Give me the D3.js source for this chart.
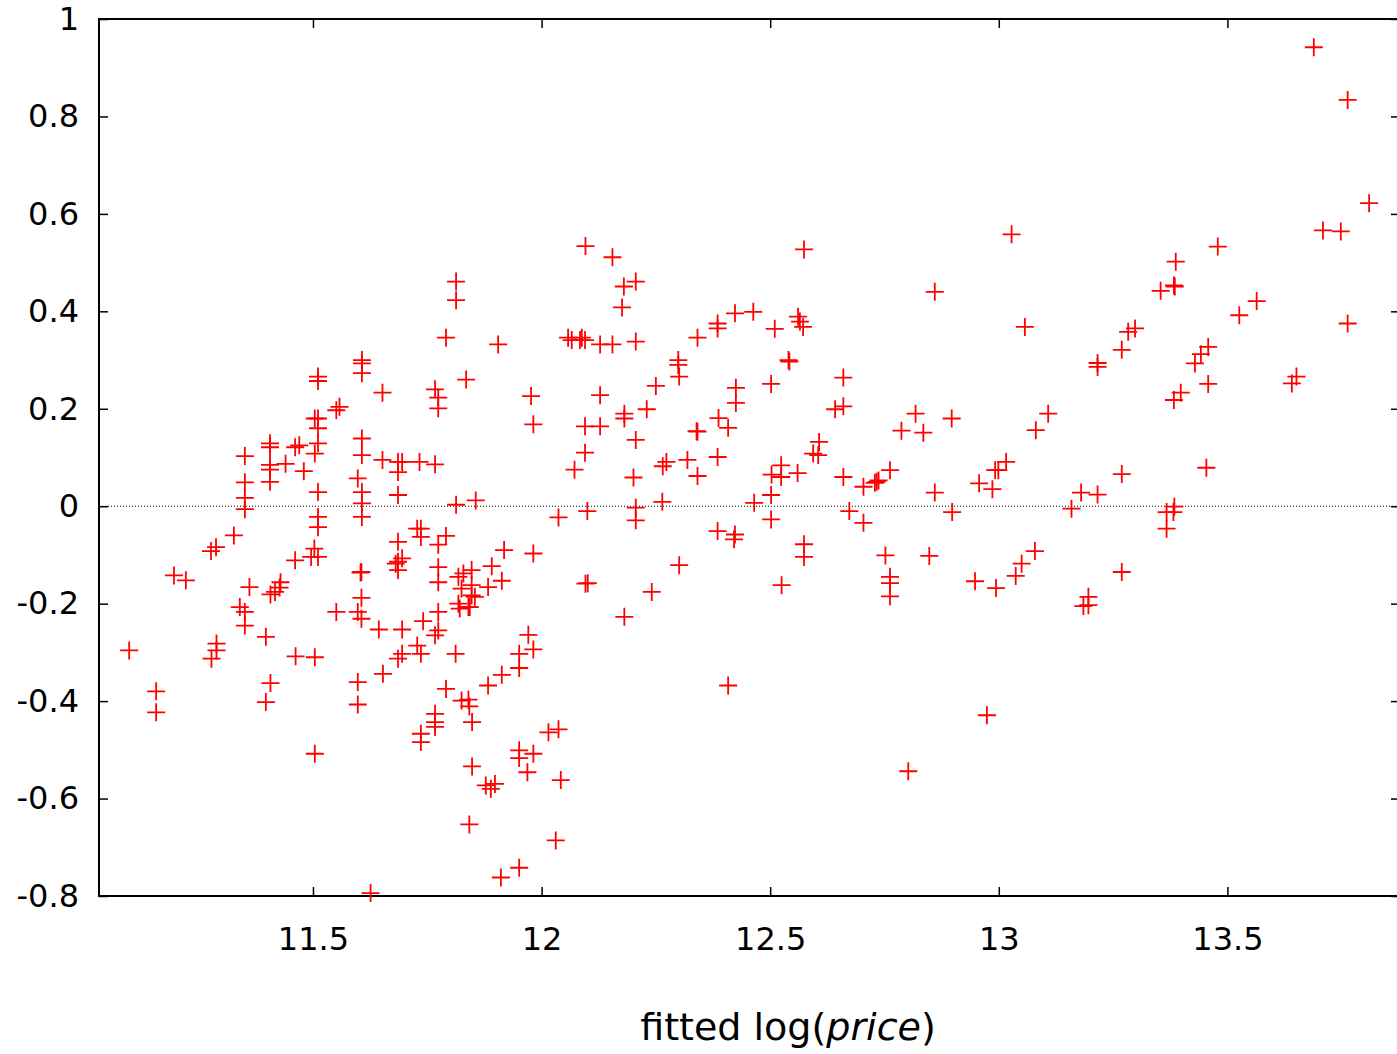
<!DOCTYPE html>
<html>
<head>
<meta charset="utf-8">
<script src="https://cdn.jsdelivr.net/npm/d3@7"></script>
<style>
  body { margin: 0; background: #fff; }
  svg { display: block; font-family: "DejaVu Sans", Verdana, sans-serif; }
</style>
</head>
<body>
<div id="chart"></div>
<script>
// fitted log(price) for each observation
var fitted = [
  11.098, 11.157, 11.157, 11.196, 11.222, 11.277, 11.288, 11.327, 11.278, 11.289,
  11.289, 11.351, 11.351, 11.351, 11.351, 11.340, 11.351, 11.351, 11.397, 11.407,
  11.397, 11.361, 11.406, 11.406, 11.406, 11.406, 11.406, 11.440, 11.461, 11.470,
  11.480, 11.429, 11.427, 11.417, 11.407, 11.461, 11.462, 11.504, 11.504, 11.504,
  11.511, 11.511, 11.504, 11.511, 11.511, 11.511, 11.511, 11.511, 11.511, 11.503,
  11.511, 11.496, 11.551, 11.558, 11.551, 11.598, 11.606, 11.598, 11.598, 11.607,
  11.607, 11.607, 11.607, 11.607, 11.598, 11.607, 11.607, 11.607, 11.606, 11.604,
  11.606, 11.626, 11.644, 11.652, 11.652, 11.653, 11.686, 11.695, 11.686, 11.686,
  11.686, 11.686, 11.681, 11.686, 11.695, 11.695, 11.686, 11.695, 11.733, 11.728,
  11.736, 11.736, 11.741, 11.728, 11.736, 11.736, 11.736, 11.767, 11.774, 11.774,
  11.767, 11.791, 11.774, 11.774, 11.774, 11.774, 11.774, 11.767, 11.767, 11.767,
  11.767, 11.791, 11.813, 11.813, 11.835, 11.813, 11.856, 11.818, 11.829, 11.847,
  11.847, 11.825, 11.847, 11.854, 11.818, 11.840, 11.821, 11.843, 11.812, 11.791,
  11.825, 11.840, 11.842, 11.848, 11.848, 11.878, 11.889, 11.898, 11.842, 11.891,
  11.913, 11.883, 11.918, 11.905, 11.982, 11.977, 11.982, 11.971, 11.982, 11.951,
  11.951, 11.913, 11.883, 11.951, 11.951, 11.982, 11.969, 11.951, 11.911, 12.015,
  12.037, 12.042, 12.031, 12.037, 12.058, 12.066, 12.084, 12.088, 12.095, 12.128,
  12.155, 12.206, 12.096, 12.155, 12.180, 12.206, 12.176, 12.072, 12.095, 12.095,
  12.128, 12.128, 12.100, 12.096, 12.101, 12.181, 12.181, 12.206, 12.201, 12.206,
  12.206, 12.181, 12.230, 12.250, 12.241, 12.264, 12.265, 12.273, 12.299, 12.299,
  12.301, 12.301, 12.319, 12.339, 12.341, 12.341, 12.341, 12.385, 12.385, 12.385,
  12.387, 12.408, 12.385, 12.423, 12.421, 12.408, 12.423, 12.463, 12.425, 12.425,
  12.465, 12.510, 12.561, 12.565, 12.572, 12.574, 12.540, 12.542, 12.502, 12.524,
  12.503, 12.524, 12.560, 12.502, 12.502, 12.574, 12.574, 12.525, 12.607, 12.594,
  12.605, 12.660, 12.642, 12.660, 12.660, 12.673, 12.704, 12.704, 12.733, 12.737,
  12.729, 12.762, 12.752, 12.762, 12.762, 12.762, 12.787, 12.818, 12.835, 12.860,
  12.860, 12.848, 12.897, 12.898, 12.974, 12.802, 12.948, 12.957, 12.986, 12.992,
  12.999, 13.016, 12.994, 13.028, 13.057, 13.037, 13.050, 13.079, 13.081, 13.108,
  13.159, 13.180, 13.216, 13.216, 13.216, 13.196, 13.196, 13.185, 13.269, 13.283,
  13.298, 13.269, 13.269, 13.354, 13.383, 13.385, 13.387, 13.367, 13.382, 13.384,
  13.367, 13.383, 13.398, 13.429, 13.442, 13.458, 13.458, 13.454, 13.479, 13.526,
  13.564, 13.641, 13.651, 13.689, 13.709, 13.748, 13.763, 13.763, 13.810
];

// residual for the same observations (same order)
var residual = [
  -0.296, -0.380, -0.423, -0.142, -0.152, -0.092, -0.084, -0.060, -0.313, -0.282,
  -0.296, 0.103, 0.049, 0.017, -0.006, -0.207, -0.217, -0.245, -0.268, -0.363,
  -0.402, -0.166, 0.129, 0.121, 0.085, 0.075, 0.050, 0.087, 0.121, 0.125,
  0.072, -0.156, -0.167, -0.176, -0.181, -0.111, -0.308, -0.310, -0.508, 0.108,
  0.266, 0.257, 0.180, 0.180, 0.160, 0.129, 0.029, -0.022, -0.043, -0.087,
  -0.104, -0.104, 0.197, 0.204, -0.217, -0.217, -0.231, -0.361, -0.407, 0.300,
  0.293, 0.273, 0.139, 0.105, 0.057, 0.029, 0.006, -0.022, -0.135, -0.136,
  -0.188, -0.794, -0.253, 0.233, 0.095, -0.344, 0.091, 0.091, 0.070, 0.023,
  -0.073, -0.114, -0.118, -0.131, -0.107, -0.253, -0.313, -0.303, 0.091, -0.046,
  -0.046, -0.063, -0.236, -0.286, -0.303, -0.467, -0.484, 0.240, 0.223, 0.201,
  0.086, -0.061, -0.079, -0.125, -0.156, -0.217, -0.255, -0.265, -0.426, -0.443,
  -0.453, 0.346, 0.461, 0.423, 0.260, 0.003, 0.012, -0.145, -0.138, -0.131,
  -0.162, -0.169, -0.183, -0.186, -0.200, -0.207, -0.210, -0.207, -0.303, -0.375,
  -0.399, -0.397, -0.411, -0.443, -0.534, -0.573, -0.580, -0.570, -0.653, -0.123,
  -0.153, -0.166, -0.090, 0.332, -0.097, 0.226, 0.168, -0.264, -0.294, -0.303,
  -0.332, -0.346, -0.368, -0.501, -0.517, -0.508, -0.546, -0.742, -0.762, -0.464,
  -0.458, -0.562, -0.686, -0.023, 0.346, 0.341, 0.341, 0.346, 0.341, 0.332,
  0.332, 0.338, 0.534, 0.511, 0.451, 0.461, 0.408, 0.075, 0.110, 0.164,
  0.164, 0.228, -0.010, -0.159, -0.158, 0.190, 0.180, 0.136, 0.059, -0.003,
  -0.029, -0.227, 0.199, 0.247, -0.176, 0.009, 0.082, 0.091, 0.300, 0.290,
  0.266, -0.121, 0.095, 0.154, 0.153, 0.062, 0.346, 0.375, 0.365, 0.101,
  0.181, 0.161, -0.051, -0.058, -0.068, -0.368, 0.396, 0.399, 0.243, 0.212,
  0.007, 0.364, 0.389, 0.379, 0.368, 0.527, 0.300, 0.297, 0.251, 0.084,
  0.065, 0.060, 0.068, 0.023, -0.027, -0.078, -0.104, -0.162, 0.132, 0.108,
  0.105, 0.264, 0.199, 0.205, 0.060, -0.010, 0.040, -0.034, 0.050, 0.053,
  0.048, 0.074, -0.101, -0.145, -0.158, -0.185, 0.155, 0.190, 0.151, 0.440,
  0.028, -0.102, 0.180, -0.012, -0.429, -0.544, -0.154, 0.047, 0.035, 0.074,
  0.074, 0.091, -0.168, 0.558, 0.368, -0.143, -0.118, -0.092, 0.156, 0.190,
  -0.005, 0.028, 0.024, 0.294, 0.286, -0.186, -0.203, -0.205, 0.321, 0.358,
  0.365, 0.066, -0.135, 0.442, 0.453, 0.451, 0.502, -0.012, -0.012, -0.001,
  -0.046, 0.218, 0.233, 0.293, 0.312, 0.327, 0.251, 0.079, 0.533, 0.392,
  0.421, 0.252, 0.266, 0.942, 0.566, 0.564, 0.834, 0.375, 0.622
];

var xTicks = [11.5, 12, 12.5, 13, 13.5];
var yTicks = [-0.8, -0.6, -0.4, -0.2, 0, 0.2, 0.4, 0.6, 0.8, 1];

function residualPlot() {
  var w = 1397;
  var h = 1054;
  // plot box edges (right edge runs just past the window)
  var pLeft = 99, pRight = 1400, pTop = 19, pBottom = 896;

  var svg = d3
    .select("#chart")
    .append("svg")
    .attr("width", w)
    .attr("height", h);

  svg.append("rect").attr("width", w).attr("height", h).attr("fill", "#fff");

  var x = d3.scaleLinear().domain([11.032, 13.8775]).range([pLeft, pRight]);
  var y = d3.scaleLinear().domain([-0.8, 1]).range([pBottom, pTop]);

  var fmt = (d) => String(+d.toFixed(1));

  // bottom axis with labels, ticks pointing in
  var xAxis = svg
    .append("g")
    .attr("transform", "translate(0," + pBottom + ")")
    .call(d3.axisBottom(x).tickValues(xTicks).tickSize(-9).tickPadding(31).tickFormat(fmt));

  // left axis with labels
  var yAxis = svg
    .append("g")
    .attr("transform", "translate(" + pLeft + ",0)")
    .call(d3.axisLeft(y).tickValues(yTicks).tickSize(-9).tickPadding(20).tickFormat(fmt));

  // mirror ticks on top and right
  var topAxis = svg
    .append("g")
    .attr("transform", "translate(0," + pTop + ")")
    .call(d3.axisTop(x).tickValues(xTicks).tickSize(-9).tickFormat(""));

  var rightAxis = svg
    .append("g")
    .attr("transform", "translate(" + pRight + ",0)")
    .call(d3.axisRight(y).tickValues(yTicks).tickSize(-9).tickFormat(""));

  [xAxis, yAxis, topAxis, rightAxis].forEach((a) => {
    a.select(".domain").remove();
    a.selectAll(".tick line").attr("stroke", "#000").attr("stroke-width", 1.5);
    a.selectAll("text")
      .attr("fill", "#000")
      .style("font-size", "32px")
      .style("font-family", '"DejaVu Sans", Verdana, sans-serif');
  });

  // zero reference line
  svg
    .append("line")
    .attr("x1", pLeft)
    .attr("x2", pRight)
    .attr("y1", y(0))
    .attr("y2", y(0))
    .attr("stroke", "#000")
    .attr("stroke-width", 1)
    .attr("stroke-dasharray", "1,2");

  // border box
  svg
    .append("rect")
    .attr("x", pLeft)
    .attr("y", pTop)
    .attr("width", pRight - pLeft)
    .attr("height", pBottom - pTop)
    .attr("fill", "none")
    .attr("stroke", "#000")
    .attr("stroke-width", 2);

  // "+" markers
  var s = 9;
  svg
    .append("g")
    .attr("stroke", "#ff0000")
    .attr("stroke-width", 1.8)
    .selectAll("path")
    .data(fitted.map((f, i) => [f, residual[i]]))
    .enter()
    .append("path")
    .attr("d", (d) => {
      var cx = x(d[0]), cy = y(d[1]);
      return "M" + (cx - s) + "," + cy + "H" + (cx + s) + "M" + cx + "," + (cy - s) + "V" + (cy + s);
    });

  // x axis title
  var title = svg
    .append("text")
    .attr("x", 788)
    .attr("y", 1040)
    .attr("text-anchor", "middle")
    .style("font-size", "38px")
    .attr("fill", "#000");
  title.append("tspan").text("fitted log(");
  title.append("tspan").style("font-style", "italic").text("price");
  title.append("tspan").text(")");
}

residualPlot();
</script>
</body>
</html>
